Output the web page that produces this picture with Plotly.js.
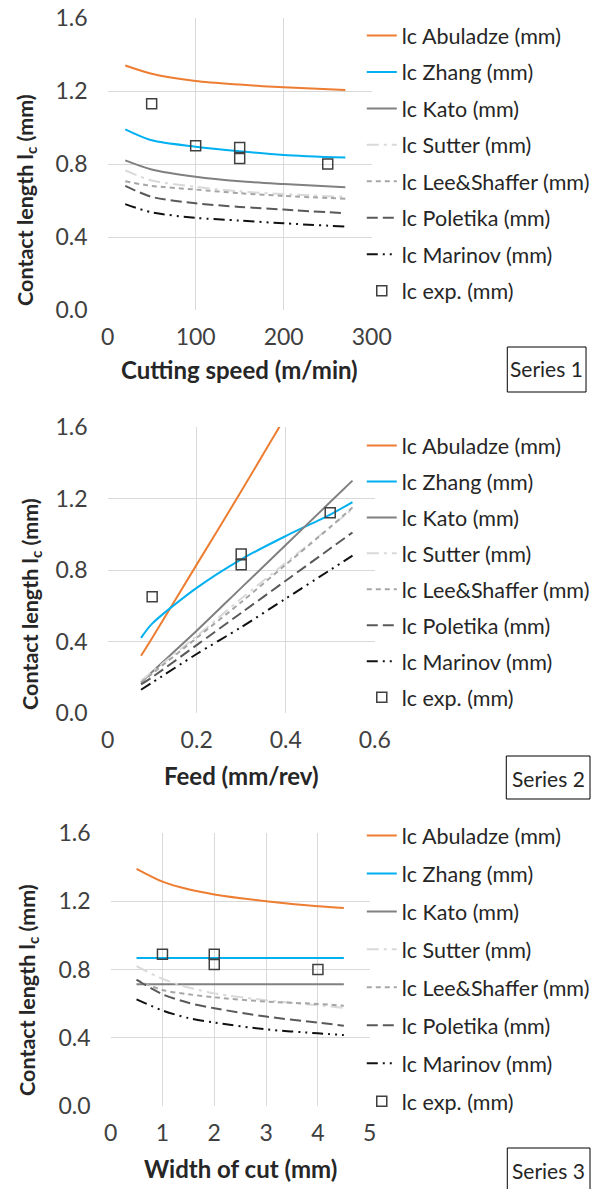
<!DOCTYPE html>
<html>
<head>
<meta charset="utf-8">
<script src="https://cdn.plot.ly/plotly-3.0.1.min.js"></script>
<style>
html,body{margin:0;padding:0;background:#fff;}
#chart{width:595px;height:1189px;}
</style>
</head>
<body>
<div id="chart"></div>
<script>
// ---------- data ----------
const seriesNames = ["lc Abuladze (mm)", "lc Zhang (mm)", "lc Kato (mm)", "lc Sutter (mm)",
  "lc Lee&Shaffer (mm)", "lc Poletika (mm)", "lc Marinov (mm)", "lc exp. (mm)"];

// Chart 1: cutting speed (m/min)
const speed = [20, 50, 100, 150, 200, 270];
const speedAbuladze = [1.34, 1.295, 1.255, 1.235, 1.22, 1.205];
const speedZhang    = [0.99, 0.93, 0.895, 0.87, 0.85, 0.835];
const speedKato     = [0.82, 0.77, 0.73, 0.705, 0.69, 0.672];
const speedSutter   = [0.765, 0.71, 0.675, 0.65, 0.635, 0.62];
const speedLee      = [0.705, 0.68, 0.66, 0.64, 0.625, 0.61];
const speedPoletika = [0.68, 0.62, 0.585, 0.565, 0.55, 0.53];
const speedMarinov  = [0.58, 0.535, 0.505, 0.49, 0.475, 0.457];
const speedExpX = [50, 100, 150, 150, 250];
const speedExpY = [1.13, 0.90, 0.89, 0.83, 0.80];

// Chart 2: feed (mm/rev)
const feed = [0.075, 0.1, 0.2, 0.3, 0.4, 0.5, 0.55];
const feedAbuladze = [0.32, 0.42, 0.83, 1.24, 1.66, 2.07, 2.27];
const feedZhang    = [0.42, 0.50, 0.70, 0.86, 0.99, 1.11, 1.18];
const feedKato     = [0.17, 0.23, 0.46, 0.70, 0.94, 1.18, 1.30];
const feedSutter   = [0.18, 0.23, 0.43, 0.64, 0.84, 1.04, 1.14];
const feedLee      = [0.17, 0.22, 0.42, 0.62, 0.83, 1.04, 1.15];
const feedPoletika = [0.16, 0.20, 0.38, 0.56, 0.74, 0.92, 1.01];
const feedMarinov  = [0.13, 0.17, 0.33, 0.48, 0.64, 0.80, 0.88];
const feedExpX = [0.1, 0.3, 0.3, 0.5];
const feedExpY = [0.65, 0.89, 0.83, 1.12];

// Chart 3: width of cut (mm)
const width = [0.5, 1, 1.5, 2, 3, 4, 4.5];
const widthAbuladze = [1.39, 1.315, 1.27, 1.24, 1.20, 1.17, 1.16];
const widthZhang    = [0.867, 0.867, 0.867, 0.867, 0.867, 0.867, 0.867];
const widthKato     = [0.713, 0.713, 0.713, 0.713, 0.713, 0.713, 0.713];
const widthSutter   = [0.82, 0.745, 0.695, 0.66, 0.62, 0.59, 0.575];
const widthLee      = [0.74, 0.68, 0.655, 0.637, 0.612, 0.598, 0.588];
const widthPoletika = [0.74, 0.655, 0.605, 0.573, 0.524, 0.489, 0.471];
const widthMarinov  = [0.625, 0.56, 0.515, 0.489, 0.449, 0.426, 0.416];
const widthExpX = [1, 2, 2, 4];
const widthExpY = [0.89, 0.89, 0.83, 0.80];

const seriesLabels = ["Series 1", "Series 2", "Series 3"];
const xTitles = ["Cutting speed (m/min)", "Feed (mm/rev)", "Width of cut (mm)"];
const yTitle = "Contact length l<sub>c</sub> (mm)";

// ---------- styles ----------
const styles = [
  {color: "#ED7D31", dash: "solid"},
  {color: "#00B0F0", dash: "solid"},
  {color: "#808080", dash: "solid"},
  {color: "#D9D9D9", dash: "12px,5px,3px,5px"},
  {color: "#A6A6A6", dash: "5px,4px"},
  {color: "#595959", dash: "11px,5px"},
  {color: "#111111", dash: "11px,5px,2px,5px,2px,5px"}
];

const W = 595, H = 1189;
const fx = v => v / W;
const fy = v => 1 - v / H;

const charts = [
  {x: speed, ys: [speedAbuladze, speedZhang, speedKato, speedSutter, speedLee, speedPoletika, speedMarinov],
   ex: speedExpX, ey: speedExpY, xr: [0, 300], dt: 100,
   dom: [108, 373, 18, 310]},
  {x: feed, ys: [feedAbuladze, feedZhang, feedKato, feedSutter, feedLee, feedPoletika, feedMarinov],
   ex: feedExpX, ey: feedExpY, xr: [0, 0.6], dt: 0.2,
   dom: [108, 376, 427, 713]},
  {x: width, ys: [widthAbuladze, widthZhang, widthKato, widthSutter, widthLee, widthPoletika, widthMarinov],
   ex: widthExpX, ey: widthExpY, xr: [0, 5], dt: 1,
   dom: [111, 371, 833, 1106]}
];

const traces = [];
const layout = {
  width: W, height: H,
  margin: {l: 0, r: 0, t: 0, b: 0},
  paper_bgcolor: "#fff", plot_bgcolor: "#fff",
  font: {family: "Lato, 'Open Sans', sans-serif", color: "#404040", size: 20},
  showlegend: true,
  annotations: [], shapes: []
};

const legendTops = [15, 425, 815];
const legendGaps = [5.5, 5.0, 7.0];
const xTitleY = [370, 775, 1168];
const yTitleX = [27, 31, 28];
const yTitleCenter = [200, 604, 990];
const boxes = [[509, 588, 347, 392], [508, 592, 756, 799], [509, 592, 1148, 1196]];

charts.forEach((c, i) => {
  const n = i + 1;
  const xa = "x" + (n === 1 ? "" : n), ya = "y" + (n === 1 ? "" : n);
  const lg = "legend" + (n === 1 ? "" : n);
  c.ys.forEach((yv, k) => {
    traces.push({
      type: "scatter", mode: "lines", x: c.x, y: yv, name: seriesNames[k],
      xaxis: xa, yaxis: ya, legend: lg, legendgroup: "g" + n + "_" + k,
      line: {color: styles[k].color, dash: styles[k].dash, width: 2, shape: "spline", smoothing: 0.8},
      hoverinfo: "skip", cliponaxis: true
    });
  });
  traces.push({
    type: "scatter", mode: "markers", x: c.ex, y: c.ey, name: seriesNames[7],
    xaxis: xa, yaxis: ya, legend: lg, legendgroup: "g" + n + "_7",
    marker: {symbol: "square-open", size: 10, color: "#404040", line: {width: 1.5, color: "#404040"}},
    hoverinfo: "skip"
  });

  const d = c.dom;
  const axX = {
    domain: [fx(d[0]), fx(d[1])], range: c.xr, dtick: c.dt, tick0: 0,
    anchor: ya, showgrid: true, gridcolor: "#D9D9D9", gridwidth: 1,
    zeroline: false, showline: false, ticks: "", ticklabelstandoff: 11,
    tickfont: {size: 23, color: "#404040"}, fixedrange: true
  };
  const axY = {
    domain: [fy(d[3]), fy(d[2])], range: [0, 1.6], dtick: 0.4, tick0: 0, tickformat: ".1f",
    anchor: xa, showgrid: true, gridcolor: "#D9D9D9", gridwidth: 1,
    zeroline: false, showline: false, ticks: "", ticklabelstandoff: 19,
    tickfont: {size: 23, color: "#404040"}, fixedrange: true
  };
  layout["xaxis" + (n === 1 ? "" : n)] = axX;
  layout["yaxis" + (n === 1 ? "" : n)] = axY;

  layout[lg] = {
    x: fx(363), xanchor: "left", y: fy(legendTops[i]), yanchor: "top",
    bgcolor: "rgba(0,0,0,0)", borderwidth: 0,
    font: {size: 21.5, color: "#262626"}, tracegroupgap: legendGaps[i], itemwidth: 30,
    traceorder: "grouped"
  };

  layout.annotations.push({
    xref: "paper", yref: "paper", x: fx((d[0] + d[1]) / 2), y: fy(xTitleY[i]),
    xanchor: "center", yanchor: "middle", showarrow: false,
    text: "<b>" + xTitles[i] + "</b>", font: {size: 24, color: "#262626"}
  });
  layout.annotations.push({
    xref: "paper", yref: "paper", x: fx(yTitleX[i]), y: fy(yTitleCenter[i]),
    xanchor: "center", yanchor: "middle", showarrow: false, textangle: -90,
    text: "<b>" + yTitle + "</b>", font: {size: 21.5, color: "#262626"}
  });
  const b = boxes[i];
  layout.shapes.push({
    type: "rect", xref: "paper", yref: "paper",
    x0: fx(b[0]), x1: fx(b[1]), y0: fy(b[3]), y1: fy(b[2]),
    line: {color: "#000", width: 1}, fillcolor: "rgba(0,0,0,0)"
  });
  layout.annotations.push({
    xref: "paper", yref: "paper", x: fx((b[0] + b[1]) / 2), y: fy(b[2] + 22),
    xanchor: "center", yanchor: "middle", showarrow: false,
    text: seriesLabels[i], font: {size: 21, color: "#262626"}
  });
});

Plotly.newPlot("chart", traces, layout, {staticPlot: true, displayModeBar: false});
</script>
</body>
</html>
